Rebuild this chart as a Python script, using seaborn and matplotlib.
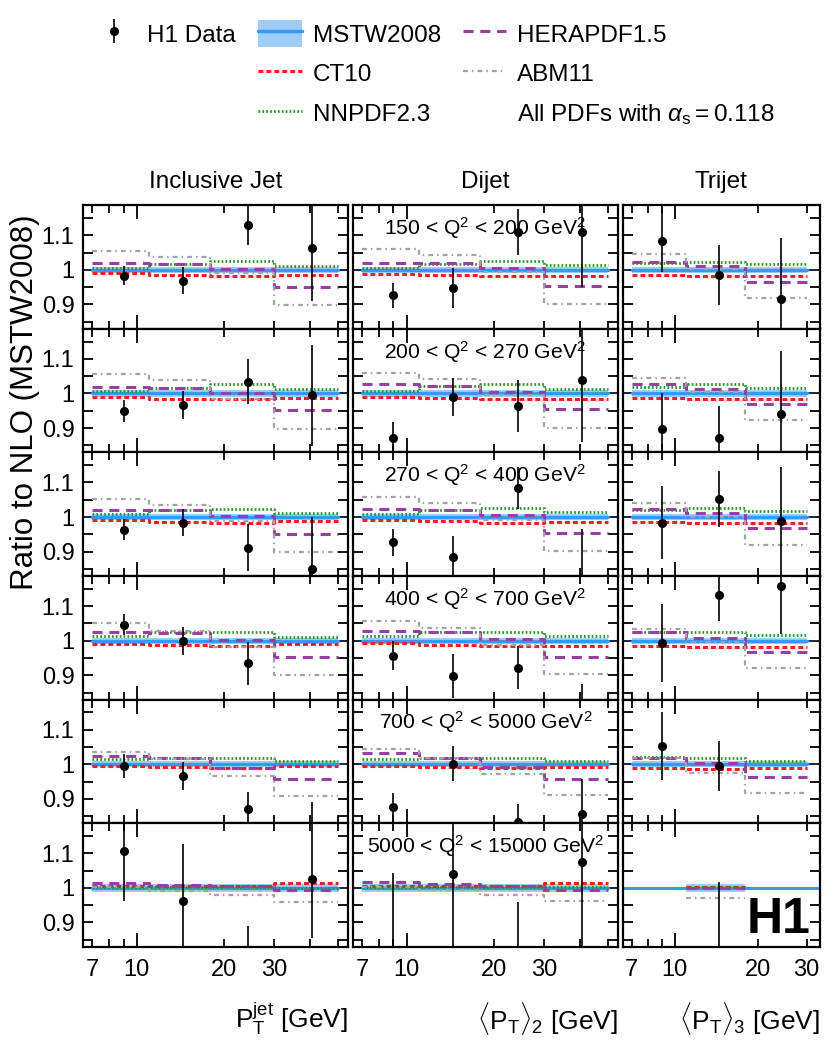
"""H1 jet ratios to NLO (MSTW2008) for several PDF sets."""
import numpy as np
import pandas as pd
import matplotlib
matplotlib.use("Agg")
import matplotlib.pyplot as plt
import seaborn as sns
from matplotlib.lines import Line2D
from matplotlib.patches import Patch

sns.set_style("ticks")
plt.rcParams['font.family'] = ['Liberation Sans', 'DejaVu Sans']
plt.rcParams['mathtext.fontset'] = 'custom'
plt.rcParams['mathtext.rm'] = 'Liberation Sans'
plt.rcParams['mathtext.it'] = 'Liberation Sans:italic'
plt.rcParams['mathtext.bf'] = 'Liberation Sans:bold'
plt.rcParams['mathtext.sf'] = 'Liberation Sans'
plt.rcParams.update({'text.color': 'black', 'axes.labelcolor': 'black',
                     'xtick.color': 'black', 'ytick.color': 'black'})

nan = np.nan

# ---- data ----
q2_labels = ["150 < Q$^2$ < 200 GeV$^2$", "200 < Q$^2$ < 270 GeV$^2$",
             "270 < Q$^2$ < 400 GeV$^2$", "400 < Q$^2$ < 700 GeV$^2$",
             "700 < Q$^2$ < 5000 GeV$^2$", "5000 < Q$^2$ < 15000 GeV$^2$"]
titles = ["Inclusive Jet", "Dijet", "Trijet"]
xlabels = [r"P$_\mathrm{T}^\mathrm{jet}$ [GeV]",
           r"$\langle\mathrm{P}_\mathrm{T}\rangle_2$ [GeV]",
           r"$\langle\mathrm{P}_\mathrm{T}\rangle_3$ [GeV]"]

pt_edges = [7, 11, 18, 30, 50]
trijet_edges = [7, 11, 18, 30]
pt_centres = [9.0, 14.5, 24.3, 40.5]
trijet_centres = [9.0, 14.5, 24.3]

mstw_unc = [0.009, 0.009, 0.009, 0.009, 0.009, 0.011]

incl_data = [[0.983, 0.969, 1.131, 1.063], [0.949, 0.966, 1.034, 0.995],
             [0.963, 0.983, 0.912, 0.849], [1.046, 0.999, 0.935, nan],
             [0.995, 0.966, 0.871, 0.740], [1.107, 0.963, 0.750, 1.026]]
incl_err = [[0.027, 0.040, 0.060, 0.152], [0.031, 0.041, 0.065, 0.146],
            [0.030, 0.039, 0.068, 0.151], [0.030, 0.040, 0.062, nan],
            [0.034, 0.040, 0.050, 0.150], [0.145, 0.164, 0.140, 0.170]]
incl_ct10 = [[0.990, 0.984, 0.982, 0.986], [0.990, 0.985, 0.983, 0.987],
             [0.991, 0.985, 0.983, 0.988], [0.991, 0.987, 0.985, 0.990],
             [0.995, 0.992, 0.988, 0.995], [1.005, 1.005, 1.005, 1.015]]
incl_nnpdf = [[1.004, 1.017, 1.025, 1.012], [1.007, 1.017, 1.026, 1.013],
              [1.009, 1.019, 1.024, 1.012], [1.014, 1.025, 1.025, 1.011],
              [1.015, 1.019, 1.017, 1.008], [1.002, 1.002, 1.002, 1.000]]
incl_hera = [[1.019, 1.017, 1.003, 0.950], [1.019, 1.017, 1.002, 0.951],
             [1.021, 1.020, 1.002, 0.951], [1.025, 1.022, 1.001, 0.952],
             [1.024, 1.017, 0.990, 0.956], [1.013, 1.009, 1.005, 0.994]]
incl_abm = [[1.054, 1.037, 0.991, 0.898], [1.056, 1.038, 0.985, 0.898],
            [1.053, 1.034, 0.989, 0.900], [1.050, 1.027, 0.982, 0.901],
            [1.034, 1.015, 0.966, 0.908], [1.003, 0.992, 0.978, 0.958]]

dijet_data = [[0.926, 0.948, 1.110, 1.110], [0.872, 0.990, 0.964, 1.040],
              [0.927, 0.885, 1.084, 0.800], [0.957, 0.898, 0.922, 0.700],
              [0.876, 1.002, 0.833, 0.856], [0.780, 1.039, 0.750, 1.076]]
dijet_err = [[0.037, 0.058, 0.067, 0.160], [0.045, 0.055, 0.074, 0.180],
             [0.039, 0.060, 0.060, 0.165], [0.042, 0.063, 0.063, 0.174],
             [0.042, 0.050, 0.053, 0.100], [0.264, 0.220, 0.208, 0.250]]
dijet_ct10 = [[0.988, 0.984, 0.982, 0.982], [0.990, 0.986, 0.983, 0.984],
              [0.991, 0.988, 0.982, 0.985], [0.993, 0.988, 0.986, 0.986],
              [0.995, 0.993, 0.990, 0.993], [1.005, 1.005, 1.005, 1.015]]
dijet_nnpdf = [[1.004, 1.017, 1.026, 1.015], [1.008, 1.022, 1.026, 1.014],
               [1.009, 1.020, 1.026, 1.014], [1.013, 1.025, 1.025, 1.014],
               [1.015, 1.019, 1.019, 1.010], [1.002, 1.002, 1.002, 1.002]]
dijet_hera = [[1.020, 1.019, 1.005, 0.952], [1.026, 1.021, 1.005, 0.954],
              [1.024, 1.021, 1.005, 0.955], [1.029, 1.025, 1.006, 0.954],
              [1.032, 1.019, 0.993, 0.956], [1.017, 1.010, 1.005, 0.993]]
dijet_abm = [[1.061, 1.044, 0.993, 0.900], [1.060, 1.041, 0.995, 0.901],
             [1.058, 1.040, 0.992, 0.902], [1.056, 1.037, 0.988, 0.904],
             [1.044, 1.019, 0.973, 0.911], [1.003, 0.993, 0.978, 0.961]]

trijet_data = [[1.083, 0.985, 0.917], [0.897, 0.872, 0.942],
               [0.984, 1.052, 0.989], [0.993, 1.131, 1.157],
               [1.053, 0.995, nan], [nan, 0.800, nan]]
trijet_err = [[0.090, 0.086, 0.175], [0.105, 0.092, 0.180],
              [0.105, 0.080, 0.157], [0.112, 0.075, 0.138],
              [0.099, 0.073, nan], [nan, 0.217, nan]]
trijet_ct10 = [[0.985, 0.982, 0.981], [0.987, 0.983, 0.983],
               [0.985, 0.983, 0.983], [0.986, 0.983, 0.983],
               [0.990, 0.985, 0.988], [nan, 1.003, nan]]
trijet_nnpdf = [[1.019, 1.024, 1.016], [1.019, 1.026, 1.015],
                [1.021, 1.026, 1.017], [1.025, 1.025, 1.015],
                [1.021, 1.019, 1.010], [nan, 1.001, nan]]
trijet_hera = [[1.024, 1.010, 0.966], [1.026, 1.012, 0.969],
               [1.023, 1.012, 0.968], [1.025, 1.008, 0.967],
               [1.019, 1.005, 0.963], [nan, 1.000, nan]]
trijet_abm = [[1.047, 1.003, 0.920], [1.044, 1.005, 0.922],
              [1.041, 0.999, 0.920], [1.035, 0.996, 0.920],
              [1.019, 0.976, 0.917], [nan, 0.971, nan]]

observables = [
    dict(edges=pt_edges, x=pt_centres, data=incl_data, err=incl_err,
         pdfs={"CT10": incl_ct10, "NNPDF2.3": incl_nnpdf,
               "HERAPDF1.5": incl_hera, "ABM11": incl_abm}, xlim=(6.5, 54)),
    dict(edges=pt_edges, x=pt_centres, data=dijet_data, err=dijet_err,
         pdfs={"CT10": dijet_ct10, "NNPDF2.3": dijet_nnpdf,
               "HERAPDF1.5": dijet_hera, "ABM11": dijet_abm}, xlim=(6.5, 54)),
    dict(edges=trijet_edges, x=trijet_centres, data=trijet_data, err=trijet_err,
         pdfs={"CT10": trijet_ct10, "NNPDF2.3": trijet_nnpdf,
               "HERAPDF1.5": trijet_hera, "ABM11": trijet_abm}, xlim=(6.5, 33.5)),
]

# ---- styles ----
band_color = "#9fcdf6"
mstw_color = "#3399ff"
palette = {"MSTW2008": mstw_color, "CT10": "#ff1a1a", "NNPDF2.3": "#1a9a1a",
           "HERAPDF1.5": "#9b3ea3", "ABM11": "#a3a3a3"}
dashes = {"MSTW2008": "", "CT10": (1.6, 1.0), "NNPDF2.3": (0.6, 0.8),
          "HERAPDF1.5": (3.3, 2.2), "ABM11": (2.2, 1.8, 0.7, 1.8)}
widths = {"MSTW2008": 2.3, "CT10": 2.2, "NNPDF2.3": 2.0,
          "HERAPDF1.5": 2.2, "ABM11": 1.6}


def step_points(edges, values):
    xs, ys = [], []
    for lo, hi, v in zip(edges[:-1], edges[1:], values):
        xs += [lo, hi]
        ys += [v, v]
    return xs, ys


fig, axes = plt.subplots(
    6, 3, figsize=(8.28, 10.52), dpi=100,
    gridspec_kw=dict(width_ratios=[265, 265, 197], hspace=0, wspace=0.019,
                     left=0.0999, right=0.9903, top=0.805, bottom=0.1001))

data_handle = None
for c, obs in enumerate(observables):
    for r in range(6):
        ax = axes[r, c]
        ax.set_xscale("log")
        edges = obs["edges"]
        ct10_vals = obs["pdfs"]["CT10"][r]
        mstw_vals = [1.0 if np.isfinite(v) else nan for v in ct10_vals]

        # reference line at 1
        only_one_bin = np.isfinite(mstw_vals).sum() == 1
        ax.axhline(1.0, color=mstw_color if only_one_bin else "#1b2f4a",
                   lw=2.2 if only_one_bin else 1.3, zorder=1)

        # MSTW uncertainty band
        bx, by = step_points(edges, mstw_vals)
        bx = np.array(bx, float)
        by = np.array(by, float)
        ok = np.isfinite(by)
        ax.fill_between(bx[ok], by[ok] - mstw_unc[r], by[ok] + mstw_unc[r],
                        color=band_color, lw=0, zorder=2)

        # model step lines
        models = [("MSTW2008", mstw_vals)] + [(k, v[r]) for k, v in obs["pdfs"].items()]
        for name, vals in models:
            sx, sy = step_points(edges, vals)
            df = pd.DataFrame({"x": sx, "ratio": sy, "pdf": name})
            sns.lineplot(data=df, x="x", y="ratio", hue="pdf", style="pdf",
                         palette=palette, dashes=dashes, estimator=None,
                         sort=False, lw=widths[name], legend=False, ax=ax,
                         zorder=4)

        # data points
        x = np.array(obs["x"], float)
        y = np.array(obs["data"][r], float)
        e = np.array(obs["err"][r], float)
        m = np.isfinite(y)
        cont = ax.errorbar(x[m], y[m], yerr=e[m], fmt="o", color="black",
                           ms=5.5, elinewidth=1.2, capsize=0, zorder=6,
                           label="H1 Data")
        if data_handle is None:
            data_handle = cont

        # axes cosmetics
        bottom = r == 5
        ax.set_xticks([10], labels=["10" if bottom else ""])
        ax.set_xticks([7, 8, 9, 20, 30, 40, 50],
                      labels=(["7", "", "", "20", "30", "", ""] if bottom
                              else [""] * 7), minor=True)
        ax.set_yticks([0.9, 1.0, 1.1],
                      labels=["0.9", "1", "1.1"] if c == 0 else ["", "", ""])
        ax.set_yticks([0.85, 0.95, 1.05, 1.15], minor=True)
        ax.set_xlim(*obs["xlim"])
        ax.set_ylim(0.83, 1.187)
        ax.tick_params(which="both", direction="in", top=True, right=True,
                       width=1.3, labelsize=17)
        ax.tick_params(axis="x", which="major", length=10, pad=9)
        ax.tick_params(axis="x", which="minor", length=6, pad=9)
        ax.tick_params(axis="y", which="both", length=7, pad=6)
        for sp in ax.spines.values():
            sp.set_linewidth(1.6)
            sp.set_color("black")
        ax.set_xlabel("")
        ax.set_ylabel("")

        if c == 1:
            ax.text(0.5, 0.815, q2_labels[r], transform=ax.transAxes,
                    ha="center", va="center", fontsize=15.2, zorder=7)
        if r == 0:
            ax.set_title(titles[c], fontsize=17.5, pad=12)
        if bottom:
            ax.set_xlabel(xlabels[c], fontsize=19, loc="right")
            ax.xaxis.set_label_coords(1.0, -0.43)

axes[5, 2].text(0.95, 0.11, "H1", transform=axes[5, 2].transAxes, ha="right",
                va="baseline", fontsize=36, fontweight="bold", zorder=8)

fig.text(0.03, 0.618, "Ratio to NLO (MSTW2008)", rotation=90, ha="center",
         va="center", fontsize=22.5)

# ---- legend ----
blank = Line2D([], [], linestyle="none")
mstw_handle = (Patch(facecolor=band_color, edgecolor="none"),
               Line2D([], [], color=mstw_color, lw=2.5))


def line_handle(name):
    h = Line2D([], [], color=palette[name], lw=widths[name])
    h.set_dashes(dashes[name])
    return h


handles = [data_handle, blank, blank,
           mstw_handle, line_handle("CT10"), line_handle("NNPDF2.3"),
           line_handle("HERAPDF1.5"), line_handle("ABM11"), blank]
labels = ["H1 Data", "", "",
          "MSTW2008", "CT10", "NNPDF2.3",
          "HERAPDF1.5", "ABM11", r"All PDFs with $\alpha_\mathrm{s} = 0.118$"]
fig.legend(handles, labels, ncol=3, loc="upper left",
           bbox_to_anchor=(0.1, 0.99), frameon=False, fontsize=17.5,
           handlelength=1.8, handleheight=1.3, handletextpad=0.45,
           columnspacing=0.9, labelspacing=0.55, borderaxespad=0)

fig.savefig("out.png", dpi=100)
